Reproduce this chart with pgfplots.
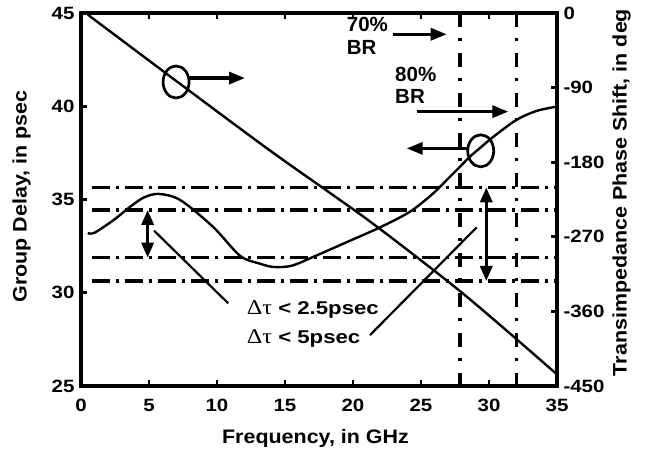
\documentclass[border=0pt]{standalone}
\usepackage{pgfplots}
\pgfplotsset{compat=1.18}
\usetikzlibrary{arrows.meta}
\usepackage{fontspec}
\setmainfont{Liberation Sans}
\newfontfamily\tickf{Liberation Sans}[FakeStretch=1.15]
\newfontfamily\labf{Liberation Sans}[FakeStretch=1.1]
\newfontfamily\dtf{Liberation Sans}[FakeStretch=1.2]
\newfontfamily\grf{Liberation Serif}[FakeStretch=1.15]

\tikzset{
 hdash/.style={line width=3.3bp, dash pattern=on 18bp off 6bp on 3bp off 6bp},
 vdash/.style={line width=3.3bp, dash pattern=on 14bp off 11.5bp on 3bp off 11.5bp},
 bigarrow/.style={line width=3.3bp, -{Triangle[length=16bp,width=12bp]}},
 dblarrow/.style={line width=3.3bp, {Triangle[length=15bp,width=12bp]}-{Triangle[length=15bp,width=12bp]}},
 annf/.style={font=\fontsize{20.5bp}{24bp}\selectfont\bfseries, inner sep=0pt},
 dtfont/.style={font=\fontsize{18.5bp}{22bp}\dtf\bfseries, inner sep=0pt},
}

\begin{document}
\begin{tikzpicture}
\path[use as bounding box] (-81bp,-67bp) rectangle (565bp,386bp);
\begin{axis}[
 at={(0,0)}, anchor=south west,
 scale only axis, width=476bp, height=373bp,
 xmin=0, xmax=35, ymin=25, ymax=45,
 clip=false,
 axis line style={line width=3.3bp},
 every tick/.style={black, line width=2.8bp},
 major tick length=6bp,
 tick align=inside,
 xtick={0,5,10,15,20,25,30,35},
 xticklabels={0,5,10,15,20,25,30,35},
 xtick pos=both, xticklabel pos=lower,
 ytick={25,30,35,40,45}, yticklabels={25,30,35,40,45},
 ytick pos=left,
 ticklabel style={font={\fontsize{17.8bp}{20bp}\tickf\bfseries}},
 xticklabel style={yshift=-10bp},
 yticklabel style={xshift=-3bp},
]
% group delay curve
\addplot[line width=2.4bp, smooth, black] coordinates {
 (0.5,33.2) (1.0,33.22) (2.4,33.9) (3.6,34.6) (4.6,35.1) (5.7,35.3)
 (7.3,34.97) (9.7,33.54) (11.7,31.98) (13.2,31.55) (14.2,31.38) (15.5,31.45)
 (17.1,31.93) (19.5,32.7) (22.0,33.51) (24.2,34.35) (25.9,35.33) (26.9,36.05)
 (27.87,36.76) (28.6,37.3) (29.4,37.8) (30.3,38.35) (32.0,39.26) (33.5,39.75) (35,39.98)};
% horizontal tolerance lines
\addplot[hdash] coordinates {(0.8,35.65) (35,35.65)};
\addplot[hdash] coordinates {(0.8,34.44) (35,34.44)};
\addplot[hdash] coordinates {(0.8,31.88) (35,31.88)};
\addplot[hdash] coordinates {(0.8,30.63) (35,30.63)};
% vertical bit-rate lines
\addplot[vdash] coordinates {(27.87,45) (27.87,25)};
\addplot[vdash] coordinates {(32.0,45) (32.0,25)};
% annotations
\draw[line width=2.7bp] (axis cs:6.99,41.3) ellipse [x radius=13bp, y radius=16bp];
\draw[bigarrow] (axis cs:7.94,41.51) -- (axis cs:12.06,41.51);
\draw[line width=2.7bp] (axis cs:29.39,37.61) ellipse [x radius=13bp, y radius=16bp];
\draw[bigarrow] (axis cs:28.4,37.74) -- (axis cs:23.95,37.74);
\draw[bigarrow] (axis cs:22.96,43.86) -- (axis cs:26.89,43.86);
\draw[bigarrow] (axis cs:24.68,39.71) -- (axis cs:31.42,39.71);
\draw[dblarrow] (axis cs:4.9,34.44) -- (axis cs:4.9,31.88);
\draw[dblarrow] (axis cs:29.8,35.65) -- (axis cs:29.8,30.63);
\draw[line width=2.2bp] (axis cs:5.37,33.33) -- (axis cs:10.83,29.43);
\draw[line width=2.2bp] (axis cs:29.1,33.51) -- (axis cs:21.25,27.73);
\node[annf, anchor=base west] at (axis cs:19.54,44.0) {70\%};
\node[annf, anchor=base west] at (axis cs:19.54,42.75) {BR};
\node[annf, anchor=base west] at (axis cs:23.09,41.32) {80\%};
\node[annf, anchor=base west] at (axis cs:23.09,40.16) {BR};
\node[dtfont, anchor=base west] at (axis cs:12.18,28.81) {{\fontsize{21bp}{22bp}\grf\mdseries Δτ} < 2.5psec};
\node[dtfont, anchor=base west] at (axis cs:12.18,27.29) {{\fontsize{21bp}{22bp}\grf\mdseries Δτ} < 5psec};
\end{axis}
\begin{axis}[
 at={(0,0)}, anchor=south west,
 scale only axis, width=476bp, height=373bp,
 xmin=0, xmax=35, ymin=-450, ymax=0,
 axis x line=none, axis y line*=right,
 axis line style={line width=3.3bp},
 every tick/.style={black, line width=2.8bp},
 major tick length=6bp,
 tick align=inside,
 ytick={-450,-360,-270,-180,-90,0},
 yticklabels={-450,-360,-270,-180,-90,0},
 ytick pos=right, yticklabel pos=right,
 ticklabel style={font={\fontsize{17.8bp}{20bp}\tickf\bfseries}},
 yticklabel style={xshift=3bp},
]
% transimpedance phase
\addplot[line width=2.4bp, smooth, black] coordinates {
 (0.5,-2) (7,-82) (13.65,-163) (18.3,-217) (21.86,-259) (28.2,-340) (35,-436)};
\end{axis}
\node[font={\fontsize{19.5bp}{22bp}\labf\bfseries}, anchor=base] at (234.5bp,-57.3bp) {Frequency, in GHz};
\node[font={\fontsize{19.5bp}{22bp}\labf\bfseries}, rotate=90, anchor=base] at (-54.3bp,189.5bp) {Group Delay, in psec};
\node[font={\fontsize{19.5bp}{22bp}\labf\bfseries}, rotate=90, anchor=base] at (545.5bp,193.5bp) {Transimpedance Phase Shift, in deg};
\end{tikzpicture}
\end{document}
